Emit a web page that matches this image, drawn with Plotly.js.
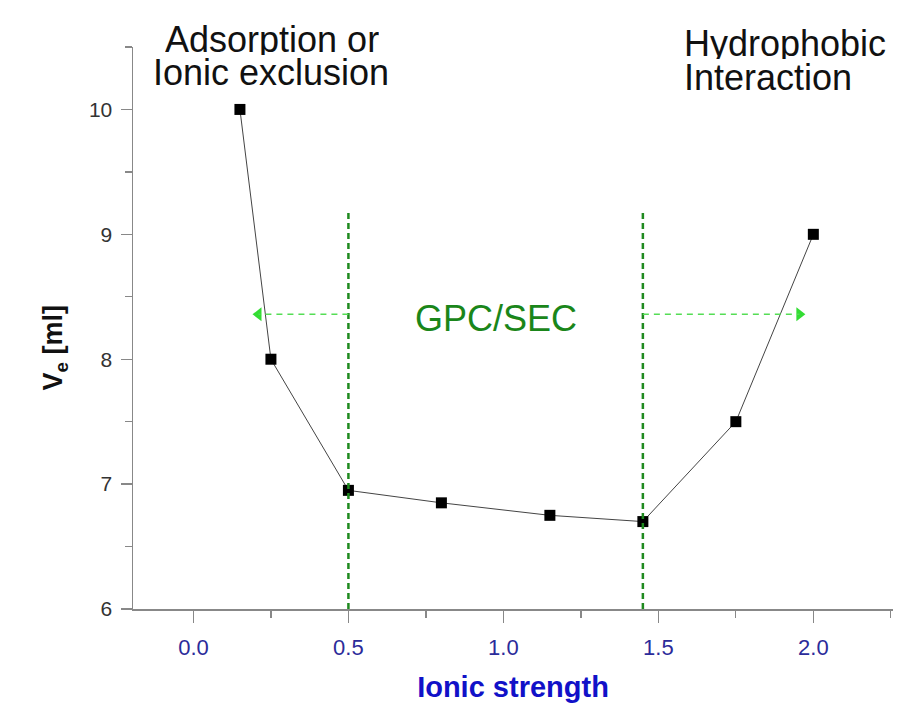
<!DOCTYPE html>
<html>
<head>
<meta charset="utf-8">
<script src="https://cdn.plot.ly/plotly-3.0.1.min.js"></script>
<style>html,body{margin:0;padding:0;background:#fff;}#chart{width:902px;height:704px;}</style>
</head>
<body>
<div id="chart"></div>
<script>
// Data
var ionicStrength = [0.15, 0.25, 0.5, 0.8, 1.15, 1.45, 1.75, 2.0];
var elutionVolume = [10.0, 8.0, 6.95, 6.85, 6.75, 6.7, 7.5, 9.0];
var xTickVals = [0, 0.5, 1.0, 1.5, 2.0];
var xTickText = ['0.0', '0.5', '1.0', '1.5', '2.0'];
var yTickVals = [6, 7, 8, 9, 10];
var yTickText = ['6', '7', '8', '9', '10'];
// Region boundaries (GPC/SEC window) and arrows
var boundaryX = [0.5, 1.45];
var boundaryTop = 9.18;
var arrowY = 8.36;
var arrowHeadX = [0.21, 1.955];
var regionLabels = ['GPC/SEC'];
var regionLabelX = [0.975];
var regionLabelY = [8.33];

var dataTrace = {
  x: ionicStrength, y: elutionVolume, type: 'scatter', mode: 'lines+markers',
  line: {color: '#444', width: 1},
  marker: {symbol: 'square', size: 11, color: '#000'},
  hoverinfo: 'skip', showlegend: false
};
var arrowHeads = {
  x: arrowHeadX, y: [arrowY, arrowY], type: 'scatter', mode: 'markers',
  marker: {symbol: ['triangle-left', 'triangle-right'], size: 12, color: '#33dd33'},
  hoverinfo: 'skip', showlegend: false
};

var shapes = [];
boundaryX.forEach(function (bx) {
  shapes.push({type: 'line', xref: 'x', yref: 'y', x0: bx, x1: bx, y0: 6, y1: boundaryTop,
    line: {color: '#1f8a1f', width: 2.5, dash: '6px,4px'}});
});
shapes.push({type: 'line', xref: 'x', yref: 'y', x0: boundaryX[0], x1: arrowHeadX[0], y0: arrowY, y1: arrowY,
  line: {color: '#55dd55', width: 1.3, dash: '6px,5px'}});
shapes.push({type: 'line', xref: 'x', yref: 'y', x0: boundaryX[1], x1: arrowHeadX[1], y0: arrowY, y1: arrowY,
  line: {color: '#55dd55', width: 1.3, dash: '6px,5px'}});

var fam = 'Arial, Liberation Sans, sans-serif';
var bigFont = {family: fam, size: 36, color: '#111'};
var annotations = [
  {text: 'Adsorption or', xref: 'paper', yref: 'paper', x: 0.183, y: 1.014, xanchor: 'center', yanchor: 'middle', height: 32, showarrow: false, font: bigFont},
  {text: 'Ionic exclusion', xref: 'paper', yref: 'paper', x: 0.181, y: 0.955, xanchor: 'center', yanchor: 'middle', height: 32, showarrow: false, font: bigFont},
  {text: 'Hydrophobic', xref: 'paper', yref: 'paper', x: 0.722, y: 1.008, xanchor: 'left', yanchor: 'middle', height: 32, showarrow: false, font: bigFont},
  {text: 'Interaction', xref: 'paper', yref: 'paper', x: 0.722, y: 0.946, xanchor: 'left', yanchor: 'middle', height: 32, showarrow: false, font: bigFont},
  {text: regionLabels[0], xref: 'x', yref: 'y', x: regionLabelX[0], y: regionLabelY[0], showarrow: false,
   font: {family: fam, size: 36, color: '#1a861a'}},
  {text: '<b>V<sub>e</sub> [ml]</b>', xref: 'paper', yref: 'paper', x: -0.102, y: 0.466, textangle: -90,
   xanchor: 'center', yanchor: 'middle', showarrow: false, font: {family: fam, size: 27, color: '#111'}}
];

var layout = {
  width: 902, height: 704,
  margin: {l: 133, r: 9, t: 47, b: 95},
  paper_bgcolor: '#fff', plot_bgcolor: '#fff',
  font: {family: fam},
  xaxis: {
    range: [-0.195, 2.257], tickvals: xTickVals, ticktext: xTickText,
    showgrid: false, zeroline: false, showline: true, linecolor: '#888', linewidth: 1.5,
    ticks: 'outside', ticklen: 12, tickcolor: '#888', tickwidth: 1.3,
    minor: {dtick: 0.25, ticks: 'outside', ticklen: 7, tickcolor: '#888', tickwidth: 1.3},
    ticklabelstandoff: 6,
    tickfont: {size: 22, color: '#2b2b9a', family: fam},
    title: {text: '<b>Ionic strength</b>', font: {size: 29, color: '#1111c8'}, standoff: 18}
  },
  yaxis: {
    range: [6, 10.5], tickvals: yTickVals, ticktext: yTickText,
    showgrid: false, zeroline: false, showline: true, linecolor: '#888', linewidth: 1.5,
    ticks: 'outside', ticklen: 11, tickcolor: '#888', tickwidth: 1.3,
    minor: {dtick: 0.5, ticks: 'outside', ticklen: 7, tickcolor: '#888', tickwidth: 1.3},
    ticklabelstandoff: 4,
    tickfont: {size: 21, color: '#333', family: fam}
  },
  shapes: shapes,
  annotations: annotations,
  showlegend: false
};

Plotly.newPlot('chart', [dataTrace, arrowHeads], layout, {displayModeBar: false, staticPlot: true});
</script>
</body>
</html>
